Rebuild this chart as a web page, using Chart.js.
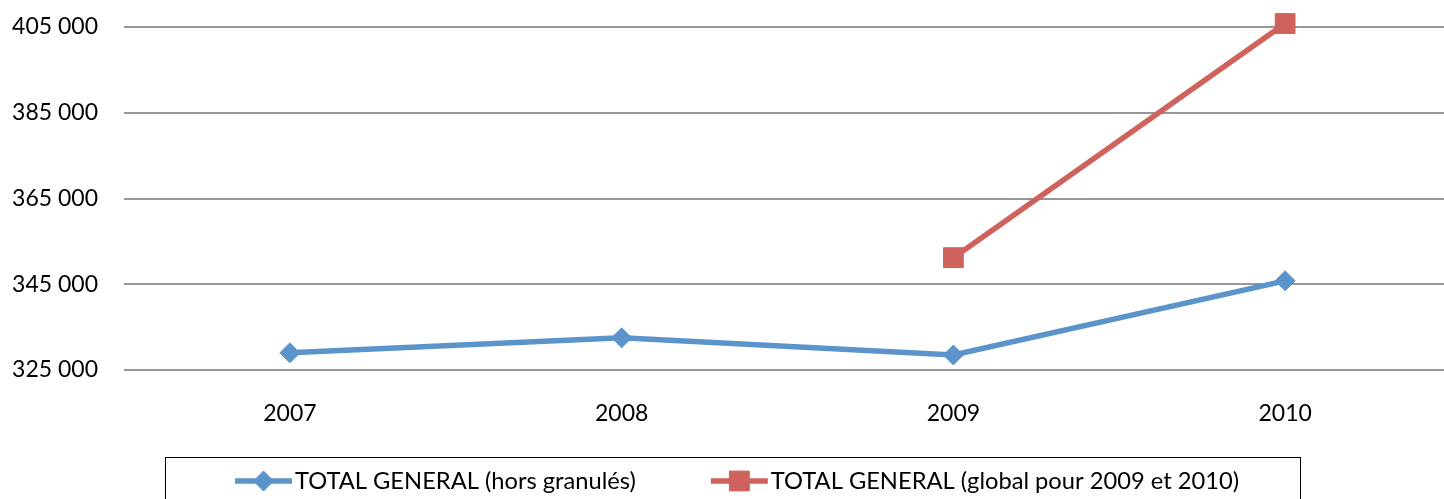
<!DOCTYPE html>
<html><head><meta charset="utf-8">
<script src="https://cdn.jsdelivr.net/npm/chart.js@4.4.0/dist/chart.umd.min.js"></script>
<style>
html,body{margin:0;padding:0;background:#fff;overflow:hidden;}
#wrap{position:relative;width:1466px;height:499px;}
canvas{display:block;}
</style></head><body>
<div id="wrap"><canvas id="c" width="1466" height="499"></canvas></div>
<script>
const categories = ['2007', '2008', '2009', '2010'];
const seriesNames = ['TOTAL GENERAL (hors granulés)', 'TOTAL GENERAL (global pour 2009 et 2010)'];
const horsGranules = [329000, 332500, 328500, 345800];
const globalTotal = [null, null, 351200, 405800];
const yTicks = [325000, 345000, 365000, 385000, 405000];

const BLUE = '#5b93cb';
const RED = '#cf625d';
const FONT = 'Lato';
const FSIZE = 23;
const LSIZE = 23.7;

function fmt(v) {
  return String(v).replace(/\B(?=(\d{3})+(?!\d))/g, ' ');
}

const boxLegend = {
  id: 'boxLegend',
  afterDraw(chart) {
    const ctx = chart.ctx;
    ctx.save();
    ctx.strokeStyle = '#000';
    ctx.lineWidth = 1;
    ctx.strokeRect(165.5, 457.5, 1135, 60);
    ctx.font = LSIZE + 'px ' + FONT;
    ctx.textBaseline = 'middle';
    ctx.textAlign = 'left';
    const lineLen = 57, gapText = 3, gapItem = 75, cy = 481;
    const items = chart.data.datasets.map(ds => ({ ds, w: lineLen + gapText + ctx.measureText(ds.label).width }));
    const total = items.reduce((a, b) => a + b.w, 0) + gapItem * (items.length - 1);
    let x = 737 - total / 2;
    items.forEach(it => {
      const ds = it.ds;
      ctx.strokeStyle = ds.borderColor;
      ctx.lineWidth = ds.borderWidth;
      ctx.beginPath();
      ctx.moveTo(x, cy);
      ctx.lineTo(x + lineLen, cy);
      ctx.stroke();
      ctx.fillStyle = ds.pointBackgroundColor;
      ctx.strokeStyle = ds.pointBorderColor;
      ctx.lineWidth = 1;
      Chart.helpers.drawPoint(ctx, { pointStyle: ds.pointStyle, radius: ds.pointRadius, borderWidth: 1, rotation: 0 }, x + lineLen / 2, cy);
      ctx.fillStyle = '#000';
      ctx.fillText(ds.label, x + lineLen + gapText, cy);
      x += it.w + gapItem;
    });
    ctx.restore();
  }
};

new Chart(document.getElementById('c'), {
  type: 'line',
  data: {
    labels: categories,
    datasets: [
      {
        label: seriesNames[0], data: horsGranules,
        borderColor: BLUE, backgroundColor: BLUE, pointBackgroundColor: BLUE, pointBorderColor: BLUE,
        borderWidth: 5.5, pointStyle: 'rectRot', pointRadius: 10, pointBorderWidth: 1, pointHoverRadius: 10,
        tension: 0, clip: false
      },
      {
        label: seriesNames[1], data: globalTotal,
        borderColor: RED, backgroundColor: RED, pointBackgroundColor: RED, pointBorderColor: RED,
        borderWidth: 5.5, pointStyle: 'rect', pointRadius: 14, pointBorderWidth: 1, pointHoverRadius: 14,
        tension: 0, clip: false
      }
    ]
  },
  options: {
    responsive: false,
    animation: false,
    devicePixelRatio: 1,
    events: [],
    layout: { padding: { top: 27, right: 0, left: 0, bottom: 0 } },
    plugins: { legend: { display: false }, tooltip: { enabled: false } },
    scales: {
      x: {
        offset: true,
        grid: { display: false, drawTicks: false },
        border: { display: false },
        ticks: { color: '#000', font: { family: FONT, size: FSIZE }, padding: 30, maxRotation: 0 },
        afterFit: s => { s.height = 129; s.paddingLeft = 0; s.paddingRight = 0; }
      },
      y: {
        min: 325000, max: 405000,
        afterBuildTicks: s => { s.ticks = yTicks.map(v => ({ value: v })); },
        grid: { color: '#979797', lineWidth: 2, drawTicks: false },
        border: { display: false },
        ticks: { color: '#000', font: { family: FONT, size: FSIZE }, padding: 26, callback: v => fmt(v) },
        afterFit: s => { s.width = 124; s.paddingTop = 0; s.paddingBottom = 0; }
      }
    }
  },
  plugins: [boxLegend]
});
</script>
</body></html>
